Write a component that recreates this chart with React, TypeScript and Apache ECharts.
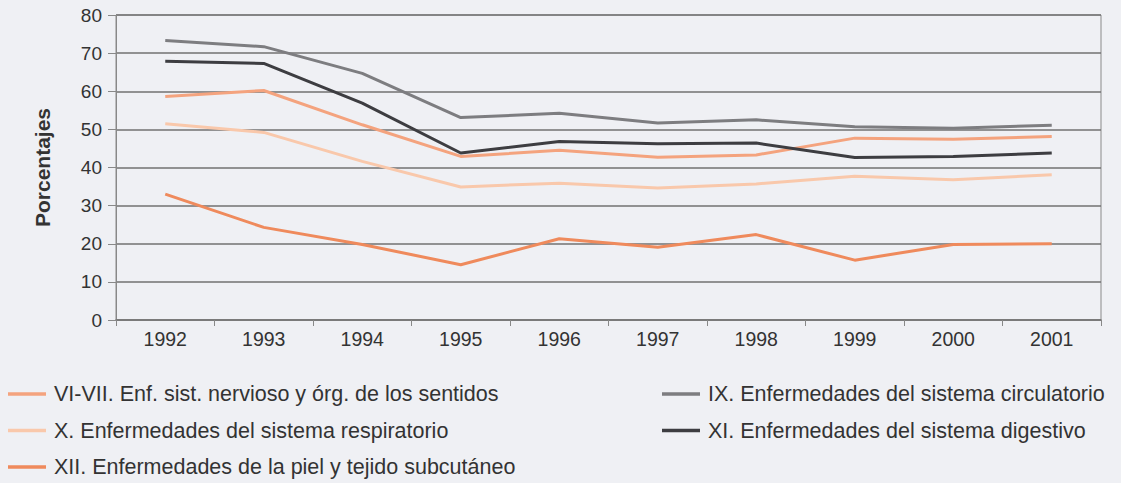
import React, { useEffect, useRef } from "react";
import * as echarts from "echarts";

const years = ["1992", "1993", "1994", "1995", "1996", "1997", "1998", "1999", "2000", "2001"];
const nervioso = [58.6, 60.2, 51.2, 42.9, 44.5, 42.7, 43.3, 47.7, 47.4, 48.1];
const respiratorio = [51.5, 49.2, 41.6, 34.9, 35.9, 34.6, 35.7, 37.7, 36.8, 38.1];
const piel = [33.0, 24.3, 19.8, 14.5, 21.3, 19.1, 22.4, 15.7, 19.8, 20.0];
const circulatorio = [73.3, 71.7, 64.7, 53.1, 54.2, 51.7, 52.5, 50.7, 50.3, 51.1];
const digestivo = [67.9, 67.3, 56.9, 43.8, 46.8, 46.2, 46.4, 42.6, 42.9, 43.8];

const names = [
  "VI-VII. Enf. sist. nervioso y órg. de los sentidos",
  "X. Enfermedades del sistema respiratorio",
  "XII. Enfermedades de la piel y tejido subcutáneo",
  "IX. Enfermedades del sistema circulatorio",
  "XI. Enfermedades del sistema digestivo",
];
const colors = ["#f4a37e", "#f9c8ab", "#ef8a5c", "#7d7d80", "#3d3d41"];
const values = [nervioso, respiratorio, piel, circulatorio, digestivo];

export default function App() {
  const ref = useRef<HTMLDivElement>(null);
  useEffect(() => {
    document.body.style.margin = "0";
    if (!ref.current) return;
    const chart = echarts.init(ref.current, undefined, { renderer: "svg" });
    const font = "'Liberation Sans', Arial, sans-serif";
    const legendCommon = {
      orient: "vertical" as const,
      icon: "rect",
      itemWidth: 38,
      itemHeight: 3.5,
      itemGap: 14.5,
      padding: 0,
      height: 140,
      textStyle: { fontFamily: font, fontSize: 21.5, color: "#333", padding: [0, 0, 0, 3] },
    };
    chart.setOption({
      animation: false,
      backgroundColor: "#eff0f4",
      textStyle: { fontFamily: font },
      grid: {
        left: 116,
        right: 20,
        top: 15,
        bottom: 163,
        show: true,
        borderColor: "#8a8a8a",
        borderWidth: 1,
      },
      legend: [
        { ...legendCommon, left: 8, top: 383, data: names.slice(0, 3) },
        { ...legendCommon, left: 662, top: 383, data: names.slice(3) },
      ],
      xAxis: {
        type: "category",
        data: years,
        boundaryGap: true,
        axisLine: { lineStyle: { color: "#777", width: 1.5 } },
        axisTick: { show: true, interval: 0, length: 6, lineStyle: { color: "#888" } },
        axisLabel: { fontSize: 19.5, color: "#333", margin: 9 },
      },
      yAxis: {
        type: "value",
        min: 0,
        max: 80,
        interval: 10,
        name: "Porcentajes",
        nameLocation: "middle",
        nameGap: 63,
        nameTextStyle: { fontSize: 21, fontWeight: "bold", color: "#333" },
        axisLine: { show: true, lineStyle: { color: "#888", width: 1 } },
        axisTick: { show: true, length: 8, lineStyle: { color: "#888" } },
        axisLabel: { fontSize: 19, color: "#333", margin: 14 },
        splitLine: { lineStyle: { color: "#727272", width: 1.5 } },
      },
      series: names.map((n, i) => ({
        name: n,
        type: "line",
        data: values[i],
        symbol: "none",
        color: colors[i],
        lineStyle: { width: 3, color: colors[i] },
      })),
    });
    return () => chart.dispose();
  }, []);
  return <div ref={ref} style={{ width: 1121, height: 483 }} />;
}
